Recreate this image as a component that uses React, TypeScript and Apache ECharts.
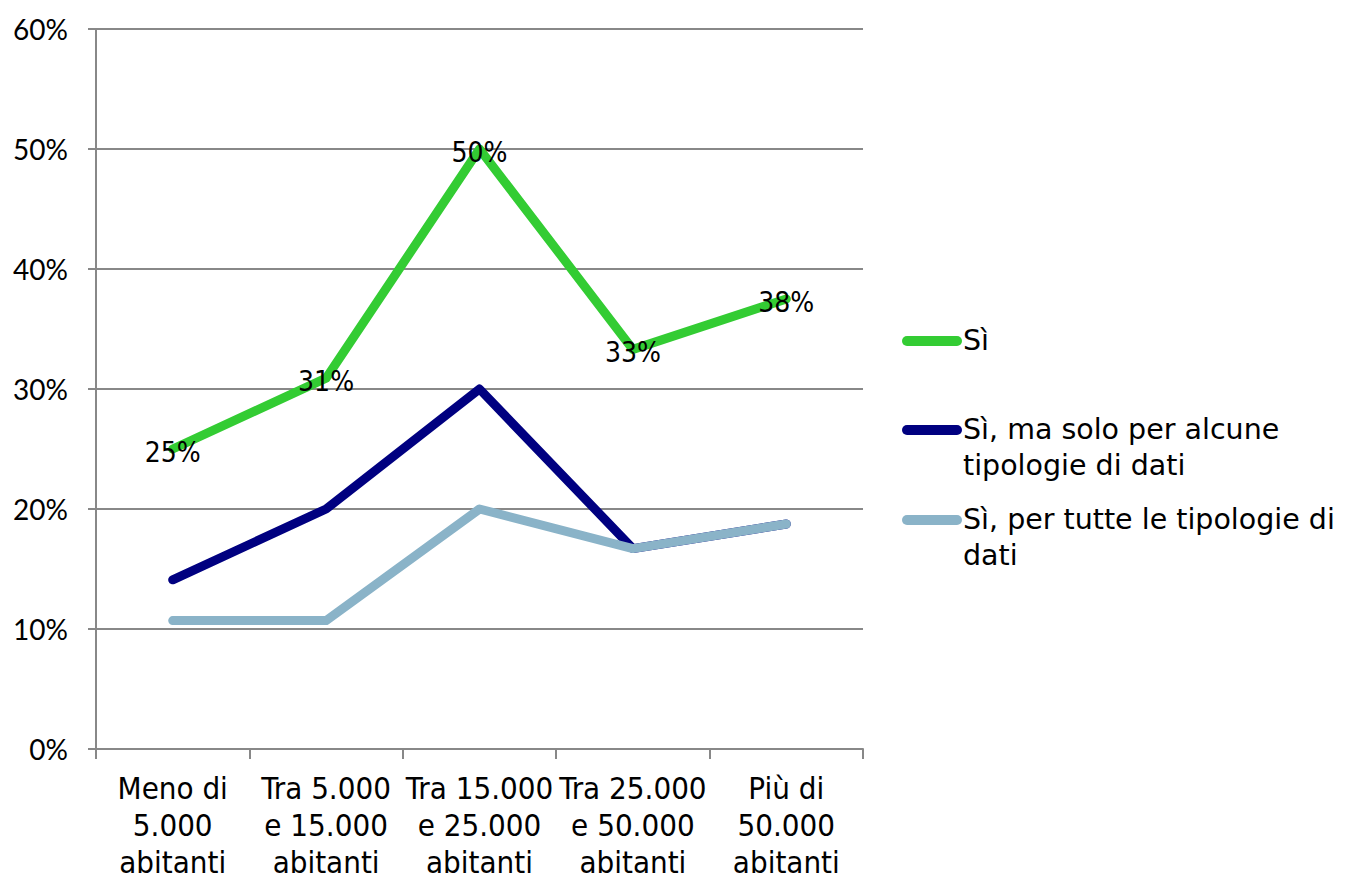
import React, { useEffect, useRef } from "react";
import * as echarts from "echarts";

const categories = [
  "Meno di\n5.000\nabitanti",
  "Tra 5.000\ne 15.000\nabitanti",
  "Tra 15.000\ne 25.000\nabitanti",
  "Tra 25.000\ne 50.000\nabitanti",
  "Più di\n50.000\nabitanti",
];
const seriesNames = ["Sì", "Sì, ma solo per alcune tipologie di dati", "Sì, per tutte le tipologie di dati"];
const legendLabels = ["Sì", "Sì, ma solo per alcune\ntipologie di dati", "Sì, per tutte le tipologie di\ndati"];
const si = [25, 30.9, 50, 33.3, 37.5];
const siAlcune = [14.1, 20, 30, 16.7, 18.75];
const siTutte = [10.7, 10.7, 20, 16.7, 18.75];
const colors = ["#33CC33", "#000080", "#8AB3C8"];
const yTicks = [0, 10, 20, 30, 40, 50, 60];

const condensed = "'DejaVu Sans Condensed', 'DejaVu Sans', sans-serif";

export default function App() {
  const ref = useRef<HTMLDivElement>(null);
  useEffect(() => {
    if (!ref.current) return;
    const chart = echarts.init(ref.current, null, { renderer: "svg" });
    const legendY = [341, 430, 520];
    const graphic: any[] = [];
    seriesNames.forEach((_, i) => {
      graphic.push({
        type: "line",
        shape: { x1: 907, y1: legendY[i], x2: 957, y2: legendY[i] },
        style: { stroke: colors[i], lineWidth: 10, lineCap: "round" },
      });
      graphic.push({
        type: "text",
        x: 963,
        y: legendY[i] - 19,
        style: {
          text: legendLabels[i],
          font: "28.5px 'DejaVu Sans'",
          fill: "#000",
          lineHeight: 36,
          verticalAlign: "top",
        },
      });
    });
    chart.setOption({
      animation: false,
      grid: { left: 96, right: 489, top: 29, bottom: 128, containLabel: false },
      xAxis: {
        type: "category",
        data: categories,
        boundaryGap: true,
        axisLine: { lineStyle: { color: "#888", width: 2 } },
        axisTick: { show: true, length: 10, lineStyle: { color: "#888", width: 2 } },
        axisLabel: {
          color: "#000",
          fontFamily: condensed,
          fontSize: 31,
          lineHeight: 37,
          margin: 20,
          interval: 0,
        },
      },
      yAxis: {
        type: "value",
        min: 0,
        max: 60,
        interval: 10,
        axisLine: { show: true, lineStyle: { color: "#888", width: 2 } },
        axisTick: { show: true, length: 8, lineStyle: { color: "#888", width: 2 } },
        splitLine: { show: true, lineStyle: { color: "#888", width: 2 } },
        axisLabel: {
          color: "#000",
          fontFamily: "Lato, 'Noto Sans', sans-serif",
          fontSize: 28,
          margin: 28,
          formatter: (v: number) => (yTicks.includes(v) ? v + "%" : ""),
        },
      },
      series: [
        {
          name: seriesNames[0],
          type: "line",
          data: si,
          symbol: "circle",
          symbolSize: 1,
          showSymbol: true,
          lineStyle: { color: colors[0], width: 9, cap: "round", join: "round" },
          itemStyle: { color: colors[0] },
          label: {
            show: true,
            position: "inside",
            offset: [0, 3],
            color: "#000",
            fontFamily: condensed,
            fontSize: 28,
            formatter: (p: any) => Math.round(p.value) + "%",
          },
          z: 3,
        },
        {
          name: seriesNames[1],
          type: "line",
          data: siAlcune,
          symbol: "none",
          lineStyle: { color: colors[1], width: 9, cap: "round", join: "round" },
          itemStyle: { color: colors[1] },
          z: 2,
        },
        {
          name: seriesNames[2],
          type: "line",
          data: siTutte,
          symbol: "none",
          lineStyle: { color: colors[2], width: 9, cap: "round", join: "round" },
          itemStyle: { color: colors[2] },
          z: 4,
        },
      ],
      graphic,
    });
    return () => chart.dispose();
  }, []);
  return <div ref={ref} style={{ width: 1352, height: 880, position: "absolute", left: 0, top: 0 }} />;
}
